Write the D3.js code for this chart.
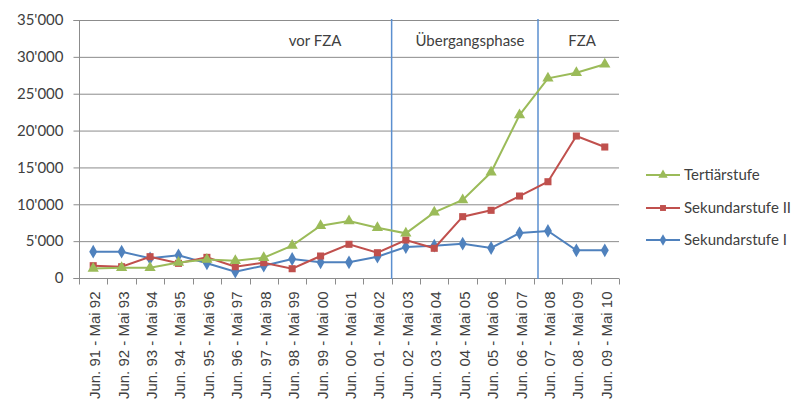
<!DOCTYPE html>
<html><head><meta charset="utf-8">
<script src="https://cdn.jsdelivr.net/npm/d3@7"></script>
<style>body{margin:0;background:#fff}svg{display:block}</style>
</head><body>
<svg id="c" width="796" height="403"></svg>
<script>
const categories = ["Jun. 91 - Mai 92","Jun. 92 - Mai 93","Jun. 93 - Mai 94","Jun. 94 - Mai 95","Jun. 95 - Mai 96","Jun. 96 - Mai 97","Jun. 97 - Mai 98","Jun. 98 - Mai 99","Jun. 99 - Mai 00","Jun. 00 - Mai 01","Jun. 01 - Mai 02","Jun. 02 - Mai 03","Jun. 03 - Mai 04","Jun. 04 - Mai 05","Jun. 05 - Mai 06","Jun. 06 - Mai 07","Jun. 07 - Mai 08","Jun. 08 - Mai 09","Jun. 09 - Mai 10"];
const tertiaer = [1300,1400,1400,2100,2500,2350,2750,4400,7100,7730,6830,6060,8910,10580,14340,22110,27090,27850,28990];
const sekII = [1670,1530,2890,1990,2800,1530,2080,1260,2980,4570,3430,5150,4030,8320,9180,11120,13060,19260,17770];
const sekI = [3570,3570,2670,3080,1990,860,1670,2580,2130,2130,2890,4200,4380,4650,4070,6100,6380,3750,3750];
const yTicks = [0,5000,10000,15000,20000,25000,30000,35000];
const phaseLabels = ["vor FZA","Übergangsphase","FZA"];
const phaseBounds = [11, 16.15]; // in category units

const svg = d3.select("#c");
const L = 79, R = 619, T = 20, B = 278;
const font = "Lato, 'Open Sans', sans-serif";
const xfont = "'Liberation Sans', Arial, sans-serif";
const x = d3.scaleBand().domain(categories).range([L, R]).paddingInner(0).paddingOuter(0);
const xb = d3.scaleLinear().domain([0, categories.length]).range([L, R]);
const y = d3.scaleLinear().domain([0, 35000]).range([B, T]);
const fmt = v => d3.format(",")(v).replace(/,/g, "'");

// gridlines
svg.append("g").selectAll("line").data(yTicks.filter(d=>d>0)).join("line")
  .attr("x1", L).attr("x2", R).attr("y1", d=>y(d)+0.5).attr("y2", d=>y(d)+0.5)
  .attr("stroke", "#8c8c8c").attr("stroke-width", 1);

// y axis
const ya = svg.append("g").attr("transform", `translate(${L+0.5},0)`)
  .call(d3.axisLeft(y).tickValues(yTicks).tickFormat(fmt).tickSize(6).tickPadding(10));
ya.select(".domain").attr("stroke", "#8c8c8c").attr("d", `M-6,${y(35000)+0.5}H0V${y(0)+0.5}H-6`);
ya.selectAll(".tick line").attr("stroke", "#8c8c8c");
ya.selectAll(".tick text").attr("font-family", font).attr("font-size", 15).attr("fill", "#404040");

// x axis
const xa = svg.append("g").attr("transform", `translate(0,${B+0.5})`);
xa.append("line").attr("x1", L).attr("x2", R).attr("stroke", "#8c8c8c");
xa.selectAll("line.tk").data(d3.range(categories.length+1)).join("line").attr("class","tk")
  .attr("x1", d=>Math.round(xb(d))+0.5).attr("x2", d=>Math.round(xb(d))+0.5).attr("y1",0).attr("y2",6)
  .attr("stroke", "#8c8c8c");
xa.selectAll("text").data(categories).join("text")
  .attr("transform", d=>`translate(${x(d)+x.bandwidth()/2+7},13) rotate(-90)`)
  .attr("text-anchor","end").attr("font-family", xfont).attr("font-size", 15).attr("fill","#404040")
  .text(d=>d);

// phase separators
svg.selectAll("line.sep").data(phaseBounds).join("line").attr("class","sep")
  .attr("x1", d=>xb(d)).attr("x2", d=>xb(d)).attr("y1", T-1).attr("y2", B+1)
  .attr("stroke", "#5b8fcf").attr("stroke-width", 1.5);

// phase labels
const phaseX = [315, 470, 582];
svg.selectAll("text.ph").data(phaseLabels).join("text").attr("class","ph")
  .attr("x", (d,i)=>phaseX[i]).attr("y", 46).attr("text-anchor","middle")
  .attr("font-family", font).attr("font-size", 15).attr("fill","#404040").text(d=>d);

const series = [
  {name:"Sekundarstufe I", values:sekI, color:"#4f81bd", sym:d3.symbolDiamond, size:55},
  {name:"Sekundarstufe II", values:sekII, color:"#c0504d", sym:d3.symbolSquare, size:50},
  {name:"Tertiärstufe", values:tertiaer, color:"#9bbb59", sym:d3.symbolTriangle, size:55},
];
const cx = i => x(categories[i]) + x.bandwidth()/2;
const line = d3.line().x((d,i)=>cx(i)).y(d=>y(d));
series.forEach(s=>{
  svg.append("path").datum(s.values).attr("d", line).attr("fill","none")
    .attr("stroke", s.color).attr("stroke-width", 2);
  svg.append("g").selectAll("path").data(s.values).join("path")
    .attr("d", d3.symbol(s.sym, s.size)).attr("transform",(d,i)=>`translate(${cx(i)},${y(d)})`)
    .attr("fill", s.color);
});

// legend
const legend = [series[2], series[1], series[0]];
const ly = [175, 208, 240];
legend.forEach((s,i)=>{
  const g = svg.append("g").attr("transform",`translate(0,${ly[i]})`);
  g.append("line").attr("x1",646).attr("x2",680).attr("stroke",s.color).attr("stroke-width",2);
  g.append("path").attr("d", d3.symbol(s.sym, s.size*0.7)).attr("transform","translate(663,0)").attr("fill",s.color);
  g.append("text").attr("x",684).attr("y",5).attr("font-family",font).attr("font-size",15)
    .attr("fill","#404040").text(s.name);
});
</script>
</body></html>
